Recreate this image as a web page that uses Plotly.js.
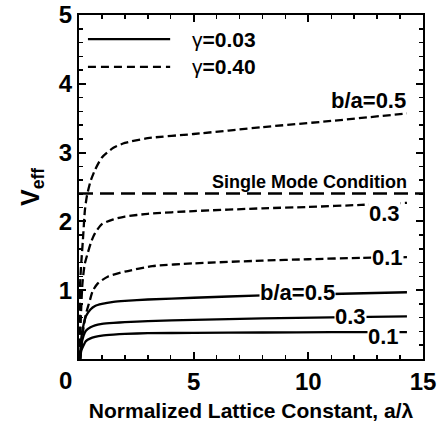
<!DOCTYPE html>
<html>
<head>
<meta charset="utf-8">
<script src="https://cdn.plot.ly/plotly-3.0.1.min.js"></script>
<style>html,body{margin:0;padding:0;background:#fff;}#chart{width:438px;height:429px;}</style>
</head>
<body>
<div id="chart"></div>
<script>
// gamma = 0.03 (solid)
var xSolid = [0.05, 0.1, 0.2, 0.3, 0.5, 0.7, 1.0, 1.5, 2, 3, 5, 8, 11, 14.3];
var ySolid01 = [0, 0.12, 0.2, 0.26, 0.3, 0.32, 0.34, 0.355, 0.365, 0.375, 0.38, 0.385, 0.39, 0.39];
var ySolid03 = [0, 0.2, 0.34, 0.41, 0.46, 0.49, 0.51, 0.525, 0.535, 0.55, 0.57, 0.59, 0.605, 0.62];
var ySolid05 = [0, 0.3, 0.5, 0.62, 0.72, 0.77, 0.8, 0.83, 0.845, 0.865, 0.89, 0.925, 0.945, 0.97];

// gamma = 0.40 (dashed)
var xDash05 = [0.02, 0.05, 0.1, 0.17, 0.26, 0.35, 0.5, 0.7, 1.0, 1.5, 2, 3, 5, 8, 11, 14.3];
var yDash05 = [0, 1.1, 1.4, 1.73, 2.17, 2.38, 2.58, 2.75, 2.93, 3.07, 3.14, 3.21, 3.27, 3.37, 3.46, 3.57];
var xDash03 = [0.03, 0.08, 0.15, 0.25, 0.39, 0.55, 0.7, 1.0, 1.5, 2, 3, 5, 8, 10, 12.3, 14.3];
var yDash03 = [0, 0.6, 1.1, 1.38, 1.55, 1.72, 1.83, 1.96, 2.03, 2.07, 2.11, 2.15, 2.19, 2.21, 2.24, 2.27];
var xDash01 = [0.05, 0.15, 0.3, 0.48, 0.6, 0.82, 1.27, 2, 3.2, 5, 8, 10, 12.3, 14.3];
var yDash01 = [0, 0.35, 0.65, 0.86, 0.99, 1.1, 1.2, 1.27, 1.35, 1.39, 1.43, 1.45, 1.47, 1.48];

// single mode condition
var xSM = [0, 15];
var ySM = [2.405, 2.405];

var xTickVals = [5, 10, 15];
var xTickText = ['5', '10', '15'];
var yTickVals = [1, 2, 3, 4, 5];
var yTickText = ['1', '2', '3', '4', '5'];

var FONT = 'Arial, "Liberation Sans", sans-serif';

function solid(x, y) {
  return {x: x, y: y, mode: 'lines', line: {color: '#000', width: 2.3, shape: 'spline', smoothing: 0.6}, showlegend: false, hoverinfo: 'skip'};
}
function dashed(x, y) {
  return {x: x, y: y, mode: 'lines', line: {color: '#000', width: 2.3, dash: '8px,4px', shape: 'spline', smoothing: 0.6}, showlegend: false, hoverinfo: 'skip'};
}

var data = [
  solid(xSolid, ySolid01),
  solid(xSolid, ySolid03),
  solid(xSolid, ySolid05),
  dashed(xDash05, yDash05),
  dashed(xDash03, yDash03),
  dashed(xDash01, yDash01),
  {x: xSM, y: ySM, mode: 'lines', line: {color: '#000', width: 2.6, dash: '14px,7px'}, showlegend: false, hoverinfo: 'skip'}
];

function lab(text, x, y, size, anchor, bg) {
  return {text: '<b>' + text + '</b>', x: x, y: y, xref: 'x', yref: 'y', showarrow: false,
    xanchor: anchor || 'center', yanchor: 'middle', font: {family: FONT, size: size, color: '#000'},
    bgcolor: bg ? '#fff' : 'rgba(0,0,0,0)', borderpad: 0};
}

var axisCommon = {
  showline: true, linewidth: 2, linecolor: '#000', mirror: 'allticks',
  ticks: 'inside', ticklen: 7, tickwidth: 2, tickcolor: '#000',
  showgrid: false, zeroline: false,
  tickfont: {family: FONT, size: 24, color: '#000', weight: 'bold'}
};

var layout = {
  width: 438, height: 429,
  margin: {l: 79, r: 15, t: 15, b: 70},
  paper_bgcolor: '#fff', plot_bgcolor: '#fff',
  showlegend: false,
  xaxis: Object.assign({}, axisCommon, {
    range: [0, 15], tickmode: 'array', tickvals: xTickVals, ticktext: xTickText,
    minor: {ticks: 'inside', dtick: 1, ticklen: 4, tickwidth: 1.5, tickcolor: '#000', showgrid: false},
    title: {text: '<b>Normalized Lattice Constant, a/λ</b>', font: {family: FONT, size: 21, color: '#000'}, standoff: 10}
  }),
  yaxis: Object.assign({}, axisCommon, {
    range: [0, 5], tickmode: 'array', tickvals: yTickVals, ticktext: yTickText,
    minor: {ticks: 'inside', dtick: 0.2, ticklen: 4, tickwidth: 1.5, tickcolor: '#000', showgrid: false},
    title: {text: '<b>V<sub>eff</sub></b>', font: {family: FONT, size: 25, color: '#000'}, standoff: 12}
  }),
  shapes: [
    {type: 'line', xref: 'paper', yref: 'paper', x0: 0.026, x1: 0.265, y0: 0.930, y1: 0.930, line: {color: '#000', width: 2.3}},
    {type: 'line', xref: 'paper', yref: 'paper', x0: 0.026, x1: 0.265, y0: 0.849, y1: 0.849, line: {color: '#000', width: 2.3, dash: '8px,5px'}}
  ],
  annotations: [
    {text: 'γ<b>=0.03</b>', xref: 'paper', yref: 'paper', x: 0.322, y: 0.930, xanchor: 'left', yanchor: 'middle', showarrow: false, font: {family: FONT, size: 21, color: '#000'}},
    {text: 'γ<b>=0.40</b>', xref: 'paper', yref: 'paper', x: 0.322, y: 0.849, xanchor: 'left', yanchor: 'middle', showarrow: false, font: {family: FONT, size: 21, color: '#000'}},
    {text: '<b>0</b>', xref: 'paper', yref: 'paper', x: 0, y: 0, xanchor: 'center', yanchor: 'top', xshift: -14, yshift: -6, showarrow: false, font: {family: FONT, size: 24, color: '#000'}},
    lab('b/a=0.5', 14.3, 3.76, 22, 'right', false),
    lab('Single Mode Condition', 14.35, 2.57, 18, 'right', false),
    lab('0.3', 13.32, 2.12, 22, 'center', true),
    lab('0.1', 13.45, 1.47, 22, 'center', true),
    lab('b/a=0.5', 9.52, 0.96, 22, 'center', true),
    lab('0.3', 11.83, 0.625, 22, 'center', true),
    lab('0.1', 13.28, 0.32, 22, 'center', true)
  ]
};

Plotly.newPlot('chart', data, layout, {staticPlot: true, displayModeBar: false});
</script>
</body>
</html>
